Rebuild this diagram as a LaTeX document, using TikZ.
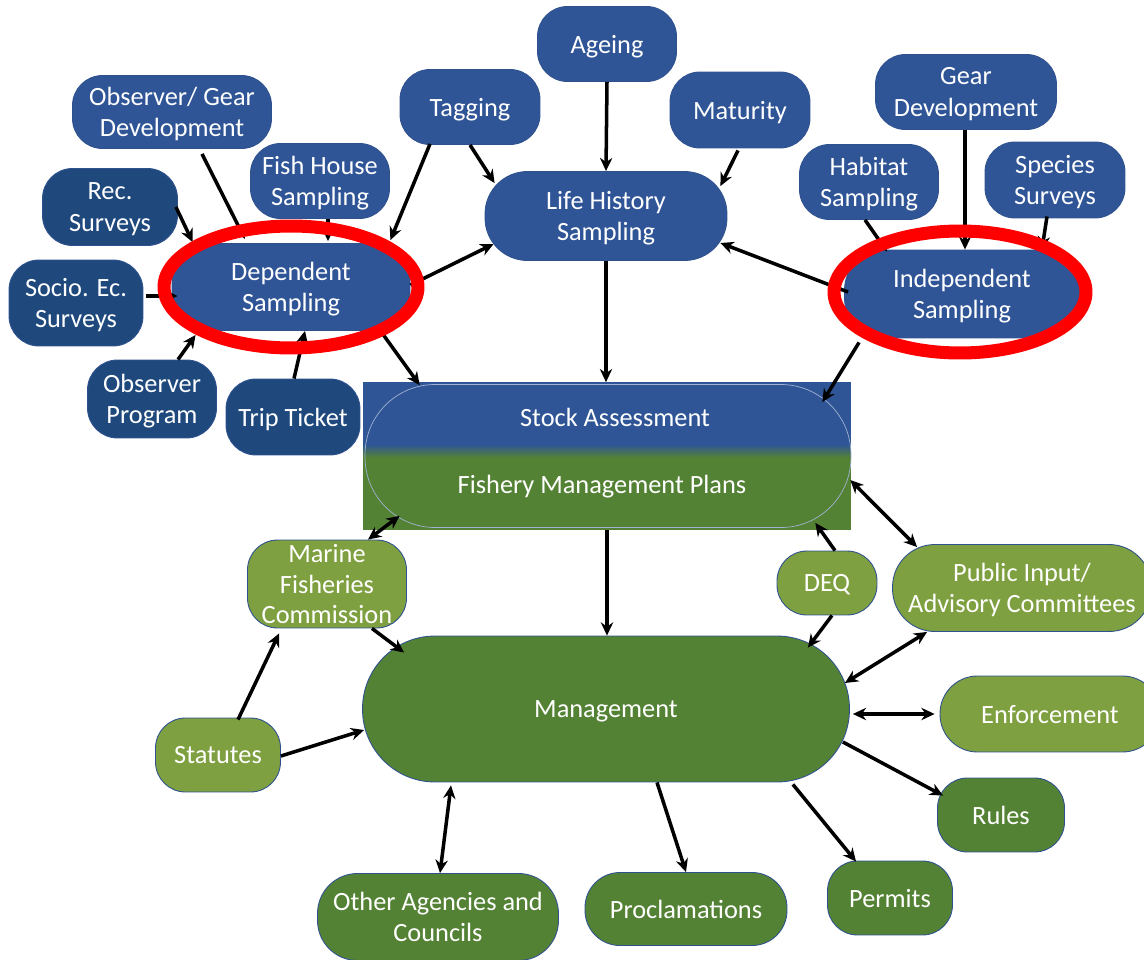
\documentclass[tikz,border=0pt]{standalone}
\usepackage{fontspec}
\setmainfont{Carlito}
\usetikzlibrary{arrows.meta,calc}

\definecolor{blu}{RGB}{47,85,151}
\definecolor{dblu}{RGB}{31,73,125}
\definecolor{dgrn}{RGB}{84,130,53}
\definecolor{lgrn}{RGB}{127,160,64}
\definecolor{rim}{RGB}{47,82,143}
\pgfdeclareverticalshading{bluegreen}{100bp}{color(0bp)=(dgrn); color(49.5bp)=(dgrn); color(54bp)=(blu); color(100bp)=(blu)}

\tikzset{
  pill/.style={rectangle, rounded corners=0.6cm, draw=rim, line width=0.5pt, text=white,
    align=center, inner sep=1pt, text depth=0pt, font=\fontsize{15}{18}\selectfont},
  blu/.style={pill, fill=blu},
  dblu/.style={pill, fill=dblu},
  dgrn/.style={pill, fill=dgrn},
  lgrn/.style={pill, fill=lgrn},
  arr/.style={line width=2pt, -{Stealth[length=7.5pt,width=7pt]}},
  darr/.style={line width=2pt, {Stealth[length=7.5pt,width=7pt]}-{Stealth[length=7.5pt,width=7pt]}},
  ring/.style={draw=red, line width=7.4pt}
}

\begin{document}
\begin{tikzpicture}[x=0.02cm, y=-0.02cm]
  \useasboundingbox (0,0) rectangle (1144,960);
  \clip (0,0) rectangle (1144,960);

  \draw (607,44) node[blu, minimum width=2.78cm, minimum height=1.5cm] (ageing) {Ageing};
  \draw (470,107) node[blu, minimum width=2.8cm, minimum height=1.5cm] (tagging) {Tagging};
  \draw (740,110) node[blu, minimum width=2.8cm, minimum height=1.52cm] (maturity) {Maturity};
  \draw (172,112) node[blu, minimum width=3.98cm, minimum height=1.46cm] (obsgear) {Observer/ Gear\\Development};
  \draw (320,181) node[blu, minimum width=2.78cm, minimum height=1.5cm] (fishhouse) {Fish House\\Sampling};
  \draw (110,207) node[dblu, minimum width=2.7cm, minimum height=1.54cm] (rec) {Rec.\\Surveys};
  \draw (606,216) node[blu, minimum width=4.84cm, minimum height=1.78cm, rounded corners=0.85cm] (lifehist) {Life History\\Sampling};
  \draw (291,287) node[blu, minimum width=4.76cm, minimum height=1.74cm, rounded corners=0.8cm] (dep) {Dependent\\Sampling};
  \draw (76,303) node[dblu, minimum width=2.68cm, minimum height=1.72cm] (socio) {Socio. Ec.\\Surveys};
  \draw (152,399) node[dblu, minimum width=2.58cm, minimum height=1.56cm] (obsprog) {Observer\\Program};
  \draw (293,417) node[dblu, minimum width=2.68cm, minimum height=1.52cm] (trip) {Trip Ticket};
  \draw (966,92) node[blu, minimum width=3.62cm, minimum height=1.5cm] (gear) {Gear\\Development};
  \draw (869,182) node[blu, minimum width=2.78cm, minimum height=1.5cm] (habitat) {Habitat\\Sampling};
  \draw (1055,180) node[blu, minimum width=2.8cm, minimum height=1.52cm] (species) {Species\\Surveys};
  \draw (962,294) node[blu, minimum width=4.7cm, minimum height=1.76cm, rounded corners=0.8cm] (indep) {Independent\\Sampling};

  \draw (607,456) node[rectangle, shade, shading=bluegreen, minimum width=9.76cm, minimum height=2.94cm, inner sep=0pt] (box) {};
  \draw (608,456) node[rectangle, rounded corners=1.4cm, draw=blu!45!white, line width=0.4pt, minimum width=9.72cm, minimum height=2.86cm] (plan) {};
  \draw (615,417) node[text=white, font=\fontsize{15}{18}\selectfont] (sa) {Stock Assessment};
  \draw (602,487) node[text=white, font=\fontsize{15}{18}\selectfont] (fmp) {Fishery Management Plans};

  \draw (327,584) node[lgrn, minimum width=3.18cm, minimum height=1.76cm, inner sep=0pt, font=\fontsize{15}{17.5}\selectfont] (marine) {Marine\\Fisheries\\Commission};
  \draw (827,583) node[lgrn, minimum width=2cm, minimum height=1.28cm] (deq) {DEQ};
  \draw (1022,588) node[lgrn, minimum width=5.18cm, minimum height=1.74cm, rounded corners=0.85cm] (public) {Public Input/\\Advisory Committees};
  \draw (606,709) node[dgrn, minimum width=9.74cm, minimum height=2.92cm, rounded corners=1.45cm] (mgmt) {Management};
  \draw (1050,714) node[lgrn, minimum width=4.4cm, minimum height=1.52cm, rounded corners=0.75cm] (enforce) {Enforcement};
  \draw (218,755) node[lgrn, minimum width=2.5cm, minimum height=1.48cm] (statutes) {Statutes};
  \draw (1001,815) node[dgrn, minimum width=2.54cm, minimum height=1.48cm] (rules) {Rules};
  \draw (890,898) node[dgrn, minimum width=2.5cm, minimum height=1.48cm] (permits) {Permits};
  \draw (686,909) node[dgrn, minimum width=4.04cm, minimum height=1.46cm, rounded corners=0.7cm] (procl) {Proclamations};
  \draw (438,917) node[dgrn, minimum width=4.82cm, minimum height=1.74cm, rounded corners=0.8cm] (other) {Other Agencies and\\Councils};

  \path[arr] ($(obsgear.south)+(30,5)$) edge ($(dep.north)+(-46,-4)$);
  \path[arr] ($(rec.east)+(-2,0)$) edge ($(dep.north west)+(21,-1)$);
  \path[arr] ($(fishhouse.south)+(8,0)$) edge ($(dep.north)+(37,-2)$);
  \path[arr] ($(tagging.south)+(-40,-1)$) edge ($(dep.north east)+(-20,-3)$);
  \path[arr] (tagging.south) edge ($(lifehist.north west)+(10,12)$);
  \path[arr] (ageing.south) edge (lifehist.north);
  \path[arr] ($(maturity.south)+(-2,2)$) edge ($(lifehist.north east)+(-7,15)$);
  \path[arr] ($(socio.east)+(3,-7)$) edge ($(dep.west)+(6,9)$);
  \path[arr] ($(obsprog.north)+(26,0)$) edge ($(dep.south west)+(24,4)$);
  \path[arr] ($(trip.north)+(1,0)$) edge ($(dep.south)+(14,0)$);
  \path[arr] ($(dep.east)+(0,-2)$) edge ($(lifehist.west)+(9,28)$);
  \path[arr] ($(dep.south east)+(-27,4)$) edge ($(box.north west)+(57,3)$);
  \path[arr] (lifehist.south) edge (lifehist.south |- box.north);
  \path[arr] ($(indep.west)+(4,-2)$) edge ($(lifehist.east)+(-7,27)$);
  \path[arr] ($(indep.south west)+(15,4)$) edge ($(box.north east)+(-29,20)$);
  \path[arr] ($(habitat.south)+(-4,0)$) edge ($(indep.north west)+(43,2)$);
  \path[arr] ($(gear.south)+(-1,0)$) edge ($(gear.south |- indep.north)+(-1,0)$);
  \path[arr] ($(species.south)+(-8,-2)$) edge ($(indep.north east)+(-38,0)$);

  \path[darr] ($(marine.north)+(41,0)$) edge ($(box.south west)+(37,-14)$);
  \path[arr] (box.south) edge (box.south |- mgmt.north);
  \path[arr] ($(deq.north)+(8,0)$) edge ($(box.south east)+(-36,-7)$);
  \path[darr] ($(box.east)+(-1,24)$) edge ($(public.north west)+(25,3)$);
  \path[arr] ($(marine.south)+(45,0)$) edge ($(mgmt.north west)+(42,17)$);
  \path[arr] ($(statutes.north)+(20,2)$) edge ($(marine.south west)+(32,5)$);
  \path[arr] ($(statutes.east)+(0,1)$) edge ($(mgmt.west)+(2,21)$);
  \path[arr] ($(deq.south)+(5,0)$) edge ($(mgmt.north east)+(-42,12)$);
  \path[darr] ($(mgmt.east)+(-5,-26)$) edge ($(public.south west)+(35,0)$);
  \path[darr] ($(mgmt.east)+(3,5)$) edge ($(enforce.west)+(-5,0)$);
  \path[arr] ($(mgmt.east)+(-7,33)$) edge ($(rules.north west)+(6,18)$);
  \path[arr] ($(mgmt.south east)+(-57,2)$) edge ($(permits.north west)+(29,1)$);
  \path[arr] ($(mgmt.south)+(51,0)$) edge (procl.north);
  \path[darr] ($(mgmt.south)+(-155,3)$) edge ($(other.north)+(2,0)$);

  \draw[ring] (dep) ellipse [x radius=2.54cm, y radius=1.22cm];
  \draw[ring] ($(indep)+(-2,-2)$) ellipse [x radius=2.52cm, y radius=1.22cm];
\end{tikzpicture}
\end{document}
